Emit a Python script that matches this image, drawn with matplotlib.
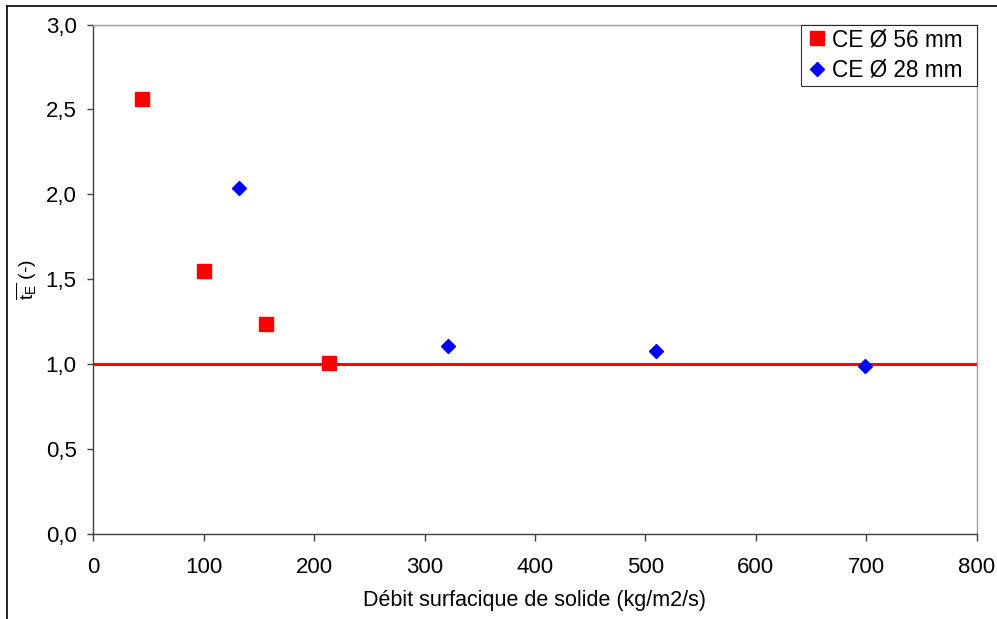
import matplotlib
matplotlib.use("Agg")
import matplotlib.pyplot as plt
from matplotlib.lines import Line2D

plt.rcParams['font.family'] = ['Liberation Sans', 'DejaVu Sans']
plt.rcParams['mathtext.fontset'] = 'custom'
plt.rcParams['mathtext.rm'] = 'Liberation Sans'
plt.rcParams['mathtext.it'] = 'Liberation Sans'

# donnees
x56 = [44, 100, 156, 213]
y56 = [2.56, 1.55, 1.24, 1.01]
x28 = [132, 321, 510, 699]
y28 = [2.04, 1.11, 1.08, 0.99]
ref_y = 1.0

xticks = [0, 100, 200, 300, 400, 500, 600, 700, 800]
yticks = [0.0, 0.5, 1.0, 1.5, 2.0, 2.5, 3.0]
ylabels = ['0,0', '0,5', '1,0', '1,5', '2,0', '2,5', '3,0']

fig = plt.figure(figsize=(9.97, 6.19), dpi=100)
ax = fig.add_axes([0.0936, 0.1368, 0.886, 0.8236])

# cadre exterieur (coupe a droite et en bas)
fig.add_artist(Line2D([7/997, 7/997], [0, 1 - 6/619], transform=fig.transFigure, color='black', lw=1.2))
fig.add_artist(Line2D([7/997, 1], [1 - 6/619, 1 - 6/619], transform=fig.transFigure, color='black', lw=1.2))

ax.axhline(ref_y, color='#ff0000', lw=2.2, zorder=2)
ax.plot(x56, y56, linestyle='none', marker='s', ms=10.5, color='#ff0000', mec='#ff0000', label='CE Ø 56 mm', zorder=3)
ax.plot(x28, y28, linestyle='none', marker='D', ms=7.3, color='#0000ff', mec='#0000ff', label='CE Ø 28 mm', zorder=3)

ax.set_xlim(0, 800)
ax.set_ylim(0, 3)
ax.set_xticks(xticks)
ax.set_yticks(yticks)
ax.set_yticklabels(ylabels)

for s in ['left', 'bottom']:
    ax.spines[s].set_color('#404040')
    ax.spines[s].set_linewidth(1.0)
for s in ['top', 'right']:
    ax.spines[s].set_color('#a0a0a0')
    ax.spines[s].set_linewidth(1.0)

ax.tick_params(axis='x', direction='out', length=5, width=1, color='#404040', labelsize=16, pad=11)
ax.tick_params(axis='y', direction='out', length=4, width=1, color='#404040', labelsize=16, pad=8)

ax.set_xlabel('Débit surfacique de solide (kg/m2/s)', fontsize=15.5, labelpad=9)
ax.set_ylabel(r'$\overline{\mathrm{t_E}}$ (-)', fontsize=14)
ax.yaxis.set_label_coords(-0.062, 0.5)

leg = ax.legend(loc='upper right', bbox_to_anchor=(0.8011, 0.0, 0.1989, 1.0), mode='expand',
                fontsize=16.3, frameon=True, fancybox=False, borderaxespad=0,
                handlelength=1.06, handletextpad=0.15, borderpad=0.17, labelspacing=0.33)
leg.get_frame().set_edgecolor('black')
leg.get_frame().set_linewidth(0.8)

fig.savefig('out.png', dpi=100)
